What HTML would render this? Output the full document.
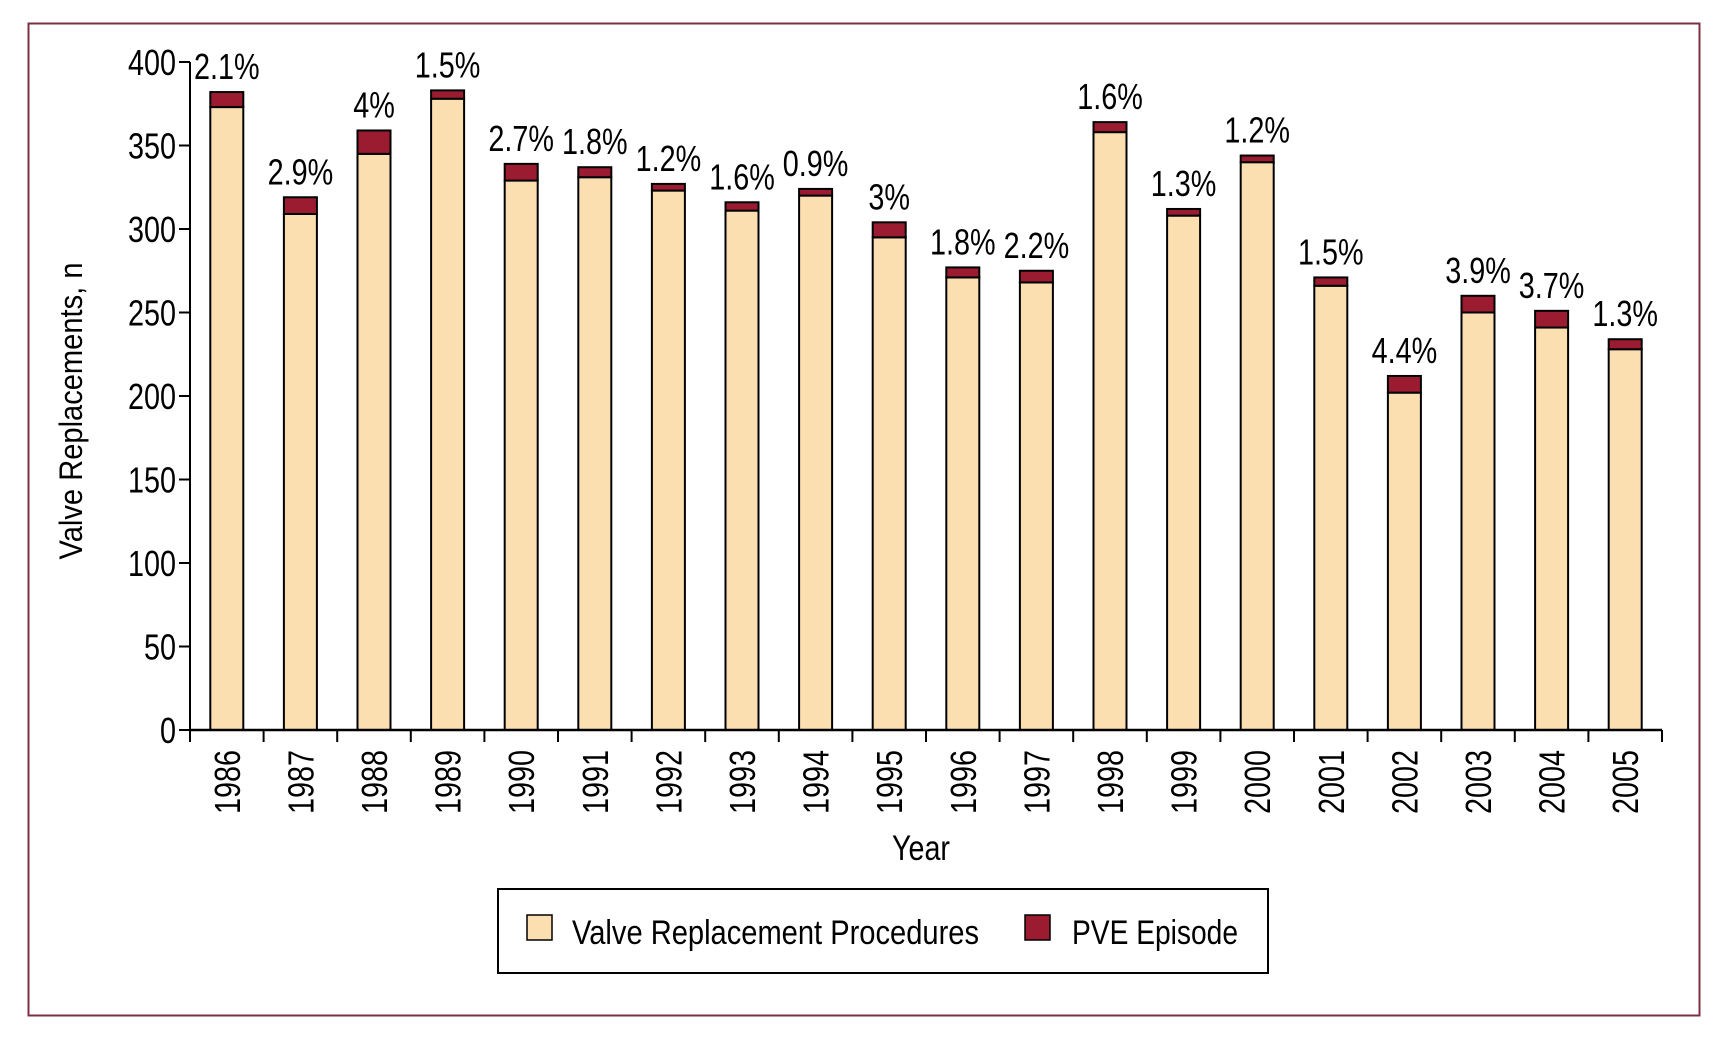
<!DOCTYPE html>
<html><head><meta charset="utf-8"><style>
html,body{margin:0;padding:0;background:#fff;}
svg{display:block;font-family:"Liberation Sans Narrow","Liberation Sans",sans-serif;}
</style></head><body>
<svg id="chart" width="1720" height="1041" viewBox="0 0 1720 1041" xmlns="http://www.w3.org/2000/svg">
<rect x="28.5" y="23.5" width="1671" height="992" fill="none" stroke="#7a3040" stroke-width="2"/>
<g id="plot"></g>
<text transform="translate(82,411) rotate(-90)" text-anchor="middle" font-size="32" textLength="297" lengthAdjust="spacingAndGlyphs">Valve Replacements, n</text>
<text transform="translate(921,860) scale(0.82,1)" text-anchor="middle" font-size="35">Year</text>
<g>
<rect x="498" y="889" width="770" height="84" fill="#fff" stroke="#000" stroke-width="2"/>
<rect x="527" y="915" width="25" height="25" fill="#fbdfb1" stroke="#000" stroke-width="1.5"/>
<text x="572" y="944" font-size="34" textLength="407" lengthAdjust="spacingAndGlyphs">Valve Replacement Procedures</text>
<rect x="1025" y="915" width="25" height="25" fill="#9b1c31" stroke="#000" stroke-width="1.5"/>
<text x="1072" y="944" font-size="34" textLength="166" lengthAdjust="spacingAndGlyphs">PVE Episode</text>
</g>
</svg>
<script>
const years = ["1986","1987","1988","1989","1990","1991","1992","1993","1994","1995","1996","1997","1998","1999","2000","2001","2002","2003","2004","2005"];
const valveValues = [373,309,345,378,329,331,323,311,320,295,271,268,358,308,340,266,202,250,241,228];
const pveValues = [9,10,14,5,10,6,4,5,4,9,6,7,6,4,4,5,10,10,10,6];
const pctLabels = ["2.1%","2.9%","4%","1.5%","2.7%","1.8%","1.2%","1.6%","0.9%","3%","1.8%","2.2%","1.6%","1.3%","1.2%","1.5%","4.4%","3.9%","3.7%","1.3%"];
const yTicks = [0,50,100,150,200,250,300,350,400];

const NS="http://www.w3.org/2000/svg";
const g=document.getElementById('plot');
const X0=190,X1=1662,Y0=730,Y400=62;
const step=(X1-X0)/years.length, barW=33, SX=0.8;
function y(v){return Y0-(v/400)*(Y0-Y400);}
function xc(i){return X0+step*(i+0.5);}
function mk(tag,attrs){const e=document.createElementNS(NS,tag);for(const k in attrs)e.setAttribute(k,attrs[k]);g.appendChild(e);return e;}

yTicks.forEach(t=>{
  const l=mk('line',{x1:179,x2:X0,y1:y(t),y2:y(t),stroke:'#000','stroke-width':2});
  
  
  const tx=mk('text',{transform:`translate(176,${y(t)+13}) scale(${SX},1)`,'text-anchor':'end','font-size':36});
  
  
  tx.textContent=t;
});
years.forEach((yr,i)=>{
  const cx=xc(i);
  const b=mk('rect',{x:cx-barW/2,y:y(valveValues[i]),width:barW,height:Y0-y(valveValues[i]),fill:'#fbdfb1',stroke:'#000','stroke-width':2});
  
  
  const top=valveValues[i]+pveValues[i];
  const p=mk('rect',{x:cx-barW/2,y:y(top),width:barW,height:y(valveValues[i])-y(top),fill:'#9b1c31',stroke:'#000','stroke-width':2});
  
  
  const lb=mk('text',{transform:`translate(${cx},${y(top)-13}) scale(${SX},1)`,'text-anchor':'middle','font-size':36});
  
  
  lb.textContent=pctLabels[i];
  const yl=mk('text',{transform:`translate(${cx+13},750) rotate(-90) scale(${SX},1)`,'text-anchor':'end','font-size':36});
  
  
  yl.textContent=yr;
});
for(let i=0;i<=years.length;i++){
  const x=X0+step*i;
  const t=mk('line',{x1:x,x2:x,y1:Y0,y2:Y0+12,stroke:'#000','stroke-width':2});
  
  
}
const ax=mk('line',{x1:X0,x2:X0,y1:Y400,y2:Y0,stroke:'#000','stroke-width':2});


const xa=mk('line',{x1:X0,x2:X1,y1:Y0,y2:Y0,stroke:'#000','stroke-width':2.5});


</script>
</body></html>
